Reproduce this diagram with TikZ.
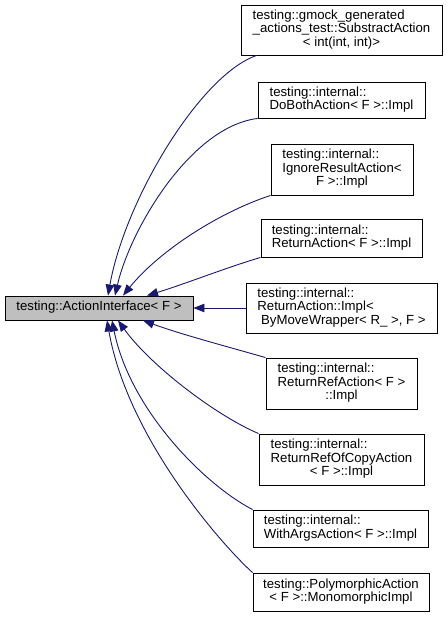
\documentclass[tikz,border=0pt]{standalone}
\usepackage{fontspec}
\setmainfont{Liberation Sans}
\usetikzlibrary{arrows.meta}
\definecolor{edgecol}{RGB}{25,25,112}
\definecolor{basefill}{RGB}{191,191,191}
\newcommand{\lbl}[2]{\begin{tabular}{@{}l@{}}#1\multicolumn{1}{@{}c@{}}{#2}\end{tabular}}
\begin{document}
\begin{tikzpicture}[x=1pt,y=-1pt,
  box/.style={draw=black,line width=0.9pt,inner sep=0pt,fill=white,
    font=\fontsize{13.2}{13.3}\selectfont},
  edge/.style={draw=edgecol,line width=0.9pt,-{Triangle[length=11pt,width=8.5pt]}}]
\useasboundingbox (0,0) rectangle (447,617);
\node[box,fill=basefill,minimum width=188pt,minimum height=24pt] (base) at (99,308) {\lbl{}{testing::ActionInterface< F >}};
\node[box,minimum width=201pt,minimum height=50pt] (n1) at (341.5,30) {\lbl{testing::gmock\_generated\\\_actions\_test::SubstractAction\\}{< int(int, int)>}};
\node[box,minimum width=167pt,minimum height=36pt] (n2) at (341.5,100) {\lbl{testing::internal::\\}{DoBothAction< F >::Impl}};
\node[box,minimum width=142pt,minimum height=51pt] (n3) at (342,169.5) {\lbl{testing::internal::\\IgnoreResultAction<\\}{F >::Impl}};
\node[box,minimum width=161pt,minimum height=38pt] (n4) at (341.5,238) {\lbl{testing::internal::\\}{ReturnAction< F >::Impl}};
\node[box,minimum width=191pt,minimum height=50pt] (n5) at (341.5,308) {\lbl{testing::internal::\\ReturnAction::Impl<\\}{\ ByMoveWrapper< R\_ >, F >}};
\node[box,minimum width=151pt,minimum height=51pt] (n6) at (341.5,383.5) {\lbl{testing::internal::\\ReturnRefAction< F >\\}{::Impl}};
\node[box,minimum width=165pt,minimum height=51pt] (n7) at (341.5,459.5) {\lbl{testing::internal::\\ReturnRefOfCopyAction\\}{< F >::Impl}};
\node[box,minimum width=175pt,minimum height=37pt] (n8) at (340.5,528.5) {\lbl{testing::internal::\\}{WithArgsAction< F >::Impl}};
\node[box,minimum width=176pt,minimum height=38pt] (n9) at (341,592) {\lbl{testing::PolymorphicAction\\}{< F >::MonomorphicImpl}};
% attachment points
\coordinate (s1) at ([xshift=16pt]n1.south west);
\coordinate (s2) at (n2.south west);
\coordinate (s3) at (n3.south west);
\coordinate (s4) at (n4.south west);
\coordinate (s6) at (n6.north west);
\coordinate (s7) at (n7.north west);
\coordinate (s8) at (n8.north west);
\coordinate (s9) at (n9.north west);
\coordinate (t1) at ([xshift=9pt]base.north);
\coordinate (t2) at ([xshift=16pt]base.north);
\coordinate (t3) at ([xshift=24pt]base.north);
\coordinate (t4) at ([xshift=48pt]base.north);
\coordinate (t6) at ([xshift=44pt]base.south);
\coordinate (t7) at ([xshift=19pt]base.south);
\coordinate (t8) at ([xshift=13pt]base.south);
\coordinate (t9) at ([xshift=8pt]base.south);
\draw[edge] (s1) .. controls (200,75) and (125,200) .. (t1);
\draw[edge] (s2) .. controls (190,127) and (130,230) .. (t2);
\draw[edge] (s3) .. controls (220,212) and (160,250) .. (t3);
\draw[edge] (s4) .. controls (225,268) and (185,284) .. (t4);
\draw[edge] (n5.west) -- (base.east);
\draw[edge] (s6) .. controls (225,346) and (180,334) .. (t6);
\draw[edge] (s7) .. controls (215,415) and (150,365) .. (t7);
\draw[edge] (s8) .. controls (205,485) and (130,410) .. (t8);
\draw[edge] (s9) .. controls (225,548) and (128,440) .. (t9);
\end{tikzpicture}
\end{document}
